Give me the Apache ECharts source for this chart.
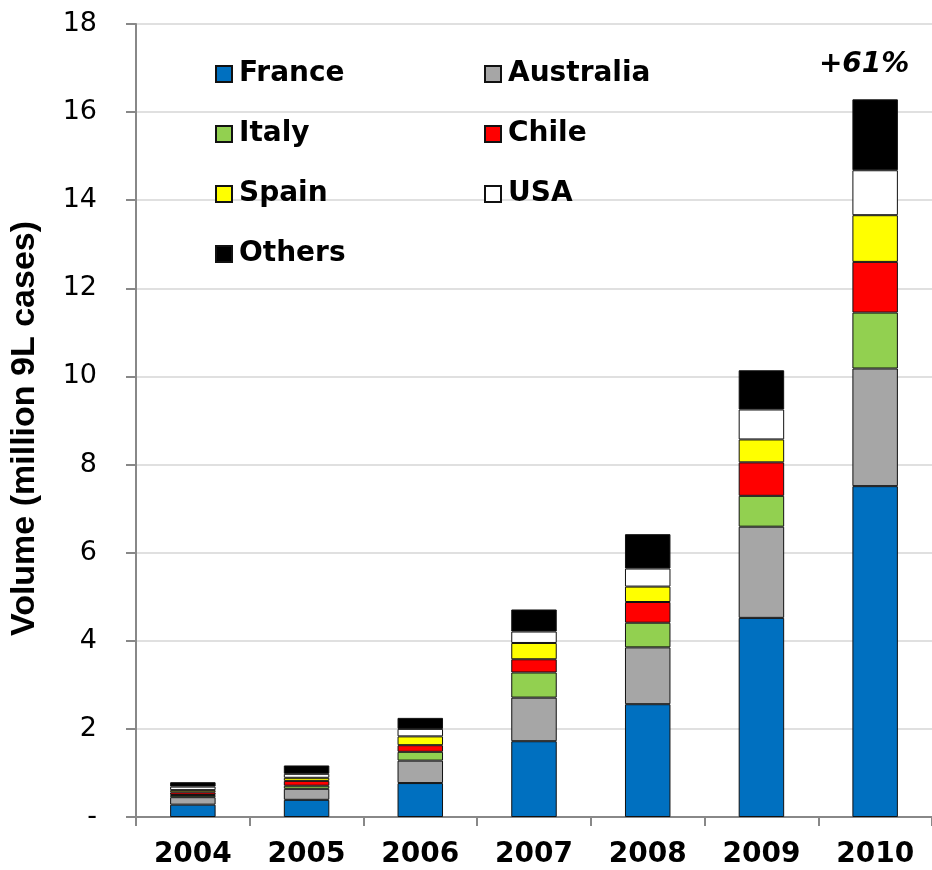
<!DOCTYPE html>
<html>
<head>
<meta charset="utf-8">
<script src="https://cdn.jsdelivr.net/npm/echarts@6/dist/echarts.min.js"></script>
<style>
  html, body { margin: 0; padding: 0; background: #ffffff; }
  #chart { width: 932px; height: 870px; }
</style>
</head>
<body>
<div id="chart"></div>
<script>
// Volume by country of origin, million 9L cases
const years = ['2004', '2005', '2006', '2007', '2008', '2009', '2010'];
const france    = [0.28, 0.39, 0.77, 1.72, 2.56, 4.52, 7.51];
const australia = [0.17, 0.25, 0.51, 0.99, 1.29, 2.07, 2.67];
const italy     = [0.05, 0.07, 0.20, 0.57, 0.56, 0.70, 1.27];
const chile     = [0.06, 0.11, 0.15, 0.30, 0.47, 0.76, 1.15];
const spain     = [0.05, 0.07, 0.20, 0.37, 0.35, 0.52, 1.06];
const usa       = [0.08, 0.09, 0.17, 0.26, 0.41, 0.68, 1.02];
const others    = [0.10, 0.19, 0.25, 0.50, 0.78, 0.89, 1.61];
const yTicks = [0, 2, 4, 6, 8, 10, 12, 14, 16, 18];

const seriesDefs = [
  { name: 'France',    data: france,    color: '#0070C0' },
  { name: 'Australia', data: australia, color: '#A6A6A6' },
  { name: 'Italy',     data: italy,     color: '#92D050' },
  { name: 'Chile',     data: chile,     color: '#FF0000' },
  { name: 'Spain',     data: spain,     color: '#FFFF00' },
  { name: 'USA',       data: usa,       color: '#FFFFFF' },
  { name: 'Others',    data: others,    color: '#000000' }
];

// yearly totals, used for the growth call-out on the last bar
const totals = years.map((_, i) => seriesDefs.reduce((s, d) => s + d.data[i], 0));
const last = years.length - 1;
const growthPct = Math.round((totals[last] / totals[last - 1] - 1) * 100);

const FONT = '"DejaVu Sans", Verdana, sans-serif';

// legend laid out in two columns
const legendSpots = [
  [215, 72], [484, 72],
  [215, 132], [484, 132],
  [215, 192], [484, 192],
  [215, 252]
];
const legends = seriesDefs.map((d, i) => ({
  data: [d.name],
  left: legendSpots[i][0],
  top: legendSpots[i][1] - 13,
  padding: 0,
  itemWidth: 16,
  itemHeight: 16,
  icon: 'rect',
  selectedMode: false,
  textStyle: {
    fontFamily: FONT,
    fontSize: 28,
    fontWeight: 'bold',
    color: '#000',
    lineHeight: 30,
    padding: [0, 0, 0, 2]
  }
}));

const series = seriesDefs.map((d, si) => ({
  name: d.name,
  type: 'bar',
  stack: 'total',
  barWidth: '40%',
  itemStyle: { color: d.color, borderColor: '#111', borderWidth: 1 },
  emphasis: { disabled: true },
  data: d.data.map((v, i) => {
    if (si === seriesDefs.length - 1 && i === last) {
      return {
        value: v,
        label: {
          show: true,
          position: 'top',
          distance: 21,
          offset: [-11, 0],
          formatter: () => '+' + growthPct + '%',
          fontFamily: FONT,
          fontSize: 28,
          fontWeight: 'bold',
          fontStyle: 'italic',
          color: '#000'
        }
      };
    }
    return v;
  })
}));

const chart = echarts.init(document.getElementById('chart'), null, { renderer: 'canvas' });
chart.setOption({
  animation: false,
  backgroundColor: '#ffffff',
  legend: legends,
  grid: { left: 136, top: 24, width: 800, bottom: 53, containLabel: false },
  xAxis: {
    type: 'category',
    data: years,
    axisLine: { show: true, lineStyle: { color: '#888888', width: 2 } },
    axisTick: { show: true, length: 9, lineStyle: { color: '#888888', width: 2 } },
    axisLabel: {
      fontFamily: FONT,
      fontSize: 28,
      fontWeight: 'bold',
      color: '#000',
      margin: 24
    }
  },
  yAxis: {
    type: 'value',
    min: yTicks[0],
    max: yTicks[yTicks.length - 1],
    interval: yTicks[1] - yTicks[0],
    name: 'Volume (million 9L cases)',
    nameLocation: 'middle',
    nameGap: 94,
    nameTextStyle: {
      fontFamily: '"Liberation Sans", Arial, sans-serif',
      fontSize: 34,
      fontWeight: 'bold',
      color: '#000',
      padding: [0, 16, 0, 0]
    },
    axisLine: { show: true, lineStyle: { color: '#888888', width: 2 } },
    axisTick: { show: true, length: 10, lineStyle: { color: '#888888', width: 2 } },
    splitLine: { show: true, lineStyle: { color: '#e0e0e0', width: 2 } },
    axisLabel: {
      fontFamily: FONT,
      fontSize: 27,
      color: '#000',
      margin: 39,
      formatter: v => (v === 0 ? '-' : String(v))
    }
  },
  series: series
});
</script>
</body>
</html>
